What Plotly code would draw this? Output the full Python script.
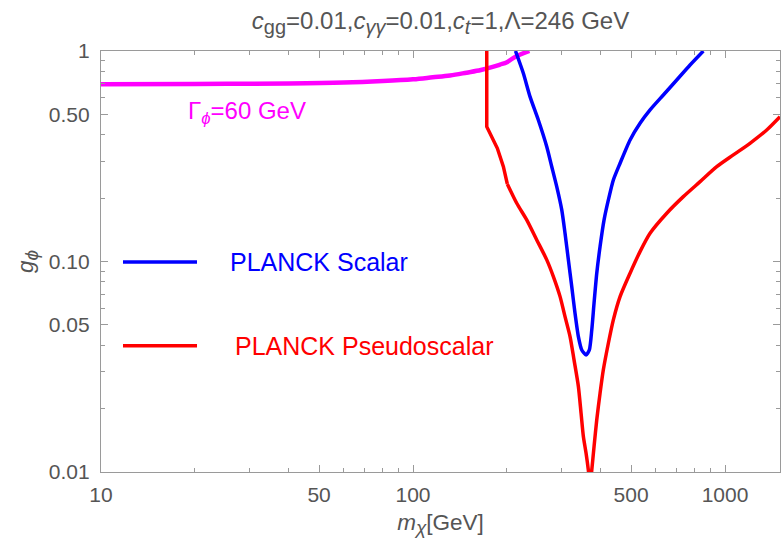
import plotly.graph_objects as go

# ---------------- data ----------------
scalar_x = [213, 225.7, 237.1, 252.1, 268.3, 278.4, 288.8, 299.7, 307, 314.7, 322.6,
            330.5, 338.8, 347.4, 358.5, 367.4, 374, 380.3, 388, 397.6, 409.5, 422.7,
            438.5, 460.8, 496.1, 534, 575, 634.2, 700, 772.3, 852]
scalar_y = [1.0, 0.7837, 0.607, 0.47, 0.351, 0.282, 0.2268, 0.1758, 0.1362, 0.1018, 0.076,
            0.0568, 0.044, 0.038, 0.036, 0.038, 0.0473, 0.0634, 0.088, 0.1177, 0.1576, 0.196,
            0.244, 0.2929, 0.378, 0.4535, 0.525, 0.618, 0.728, 0.858, 1.0]

pseudo_x = [172.3, 172.3, 186.3, 194.8, 200.5, 215, 231.4, 249.2, 268.3, 281.7, 296, 307,
            318.6, 328.1, 338.8, 345.6, 351.5, 358.5, 364.7, 369.5, 374, 380.3, 388, 397.6,
            407.3, 422.7, 438.5, 460.8, 496.1, 534, 575, 650.4, 735, 831.8, 940.6, 1063,
            1202, 1360, 1500]
pseudo_y = [1.05, 0.437, 0.345, 0.282, 0.2336, 0.1891, 0.1576, 0.1266, 0.1018, 0.0848, 0.0681,
            0.0547, 0.044, 0.0341, 0.0255, 0.019, 0.01475, 0.0123, 0.0102, 0.0085, 0.0102,
            0.0132, 0.0177, 0.0237, 0.0306, 0.0409, 0.0528, 0.0681, 0.088, 0.1114, 0.1362,
            0.1696, 0.2033, 0.2395, 0.282, 0.3208, 0.3644, 0.4216, 0.4875]
pseudo_kink = 4  # index where the piecewise-straight left part ends

width_x = [10, 20, 40, 60, 80, 100, 115.6, 131.4, 148.5, 165, 180, 190, 200, 213, 236]
width_y = [0.695, 0.697, 0.701, 0.708, 0.72, 0.734, 0.75, 0.765, 0.789, 0.812, 0.84,
           0.862, 0.885, 0.94, 1.0]

x_major = [10, 50, 100, 500, 1000]
x_major_labels = ["10", "50", "100", "500", "1000"]
x_minor = [20, 30, 40, 60, 70, 80, 90, 200, 300, 400, 600, 700, 800, 900]
y_major = [0.01, 0.05, 0.1, 0.5, 1]
y_major_labels = ["0.01", "0.05", "0.10", "0.50", "1"]
y_minor = [0.02, 0.03, 0.04, 0.06, 0.07, 0.08, 0.09, 0.2, 0.3, 0.4, 0.6, 0.7, 0.8, 0.9]

legend_names = ["PLANCK Scalar", "PLANCK Pseudoscalar"]


def sub(t, px):
    return f"<sub><span style='font-size:{px}px'>{t}</span></sub>"


title_text = ("<i>c</i>" + sub("gg", 20) + "=0.01,<i>c</i>" + sub("<i>γγ</i>", 20) + "=0.01,"
              "<i>c</i>" + sub("<i>t</i>", 20) + "=1,Λ=246 GeV")
x_title = "<i>m</i>" + sub("<i>χ</i>", 19) + "[GeV]"
y_title = "<i>g</i>" + sub("<i>ϕ</i>", 19)
width_label = "Γ<sub><i>ϕ</i></sub>=60 GeV"

# ---------------- figure ----------------
FONT = "Liberation Sans, Arial, sans-serif"
GRAY = "#555555"
AXIS = "#9a9a9a"
BLUE = "#0000ff"
RED = "#ff0000"
MAGENTA = "#ff00ff"

fig = go.Figure()
fig.add_trace(go.Scatter(x=width_x, y=width_y, mode="lines",
                         line=dict(color=MAGENTA, width=4.5, shape="spline"),
                         showlegend=False, hoverinfo="skip"))
fig.add_trace(go.Scatter(x=scalar_x, y=scalar_y, mode="lines", name=legend_names[0],
                         line=dict(color=BLUE, width=3.5, shape="spline", smoothing=0.6),
                         showlegend=False))
fig.add_trace(go.Scatter(x=pseudo_x[:pseudo_kink + 1], y=pseudo_y[:pseudo_kink + 1], mode="lines",
                         name=legend_names[1], line=dict(color=RED, width=3.5),
                         showlegend=False))
fig.add_trace(go.Scatter(x=pseudo_x[pseudo_kink:], y=pseudo_y[pseudo_kink:], mode="lines",
                         name=legend_names[1],
                         line=dict(color=RED, width=3.5, shape="spline", smoothing=0.7),
                         showlegend=False))

# legend sample lines (paper coordinates)
for yy, col in [(0.4988, BLUE), (0.300, RED)]:
    fig.add_shape(type="line", xref="paper", yref="paper", x0=0.0324, x1=0.1414, y0=yy, y1=yy,
                  line=dict(color=col, width=3.5))
fig.add_annotation(text=legend_names[0], xref="paper", yref="paper", x=0.187, y=0.4988,
                   xanchor="left", yanchor="middle", showarrow=False,
                   font=dict(family=FONT, size=25, color=BLUE))
fig.add_annotation(text=legend_names[1], xref="paper", yref="paper", x=0.1944, y=0.300,
                   xanchor="left", yanchor="middle", showarrow=False,
                   font=dict(family=FONT, size=25, color=RED))
fig.add_annotation(text=width_label, xref="paper", yref="paper", x=0.125, y=0.853,
                   xanchor="left", yanchor="middle", showarrow=False,
                   font=dict(family=FONT, size=24, color=MAGENTA))

axis_common = dict(showline=True, linecolor=AXIS, linewidth=1.2, mirror="ticks",
                   ticks="inside", ticklen=7, tickwidth=1, tickcolor=AXIS,
                   showgrid=False, zeroline=False,
                   tickfont=dict(family=FONT, size=21, color=GRAY))

fig.update_xaxes(type="log", range=[1, 3.1761], tickmode="array", tickvals=x_major,
                 ticktext=x_major_labels, ticklabelstandoff=4,
                 minor=dict(tickmode="array", tickvals=x_minor, ticks="inside", ticklen=4,
                            tickcolor=AXIS, showgrid=False),
                 title=dict(text=x_title, standoff=8,
                            font=dict(family=FONT, size=22.5, color=GRAY)),
                 **axis_common)
fig.update_yaxes(type="log", range=[-2, 0], tickmode="array", tickvals=y_major,
                 ticktext=y_major_labels, ticklabelstandoff=6,
                 minor=dict(tickmode="array", tickvals=y_minor, ticks="inside", ticklen=4,
                            tickcolor=AXIS, showgrid=False),
                 title=dict(text=y_title, standoff=8,
                            font=dict(family=FONT, size=22.5, color=GRAY)),
                 **axis_common)

fig.update_layout(
    width=782, height=542,
    margin=dict(l=101, r=2, t=51, b=70),
    paper_bgcolor="white", plot_bgcolor="white",
    title=dict(text=title_text, x=0.5, xref="paper", xanchor="center",
               y=1 - 21 / 542, yref="container", yanchor="middle",
               font=dict(family=FONT, size=24, color=GRAY)),
    showlegend=False,
)

fig.write_html("out.html")
